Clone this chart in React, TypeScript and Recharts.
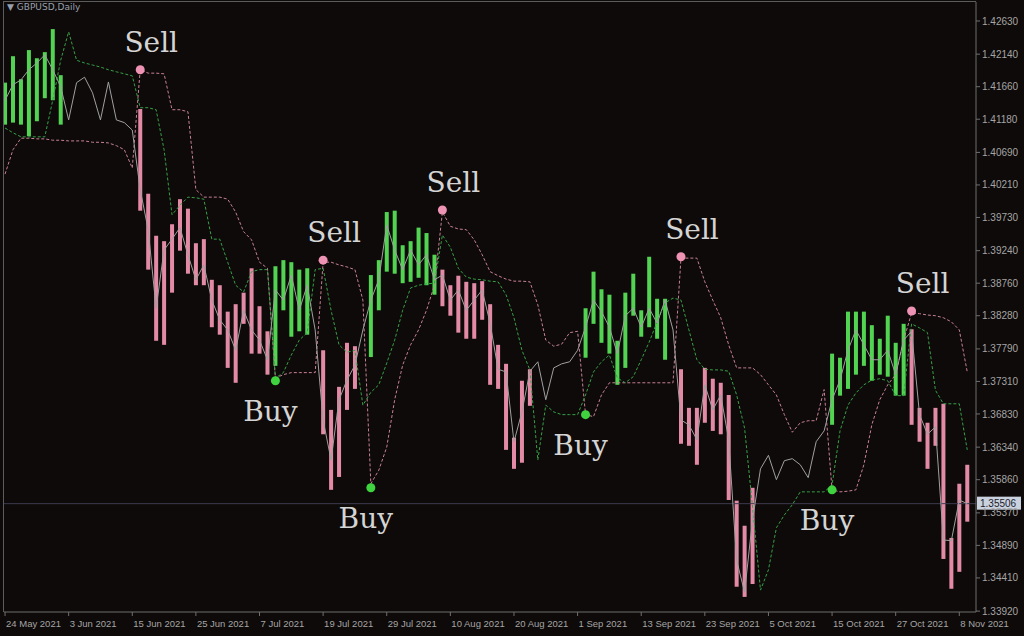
import React from "react";
import {
  ComposedChart,
  Bar,
  Line,
  Scatter,
  XAxis,
  YAxis,
  ReferenceLine,
} from "recharts";

// colours
const BG = "#0e0a09";
const UP = "#52d452";
const DOWN = "#e38aa7";
const CLOSE_LINE = "#a0a0a0";
const GREEN_DASH = "#36a147";
const PINK_DASH = "#c78196";
const AXIS = "#6f6f6f";
const TICK_TEXT = "#a5a5a5";

// x axis labels, one every 8 daily bars
const dateTicks = [
  "24 May 2021", "3 Jun 2021", "15 Jun 2021", "25 Jun 2021", "7 Jul 2021",
  "19 Jul 2021", "29 Jul 2021", "10 Aug 2021", "20 Aug 2021", "1 Sep 2021",
  "13 Sep 2021", "23 Sep 2021", "5 Oct 2021", "15 Oct 2021", "27 Oct 2021",
  "8 Nov 2021",
];

const priceTicks = [
  1.4263, 1.4214, 1.4166, 1.4118, 1.4069, 1.4021, 1.3973, 1.3924, 1.3876,
  1.3828, 1.3779, 1.3731, 1.3683, 1.3634, 1.3586, 1.3537, 1.3489, 1.3441,
  1.3392,
];

const lastPrice = 1.35506;

// G = green bar, P = pink bar, . = no bar (close line only)
const side =
  "GGGGGGGG.........PPPPPPPPPPPPPPPPPGGGGG.PPPPP.GGGGGGGGGPPPPPPPPPPPP......GGGGGGGGGGG.PPPPPPPPPP.........GGGGGGGGGGPPPPPPPP";

const high = [
  1.4172, 1.4211, 1.4177, 1.422, 1.4208, 1.4217, 1.4251, 1.4183,
  null, null, null, null, null, null, null, null, null,
  1.4133, 1.4008, 1.3946, 1.3938, 1.3963, 1.4, 1.3986, 1.3935, 1.3941, 1.3881,
  1.3873, 1.3834, 1.3845, 1.3862, 1.3898, 1.3842, 1.3805,
  1.3901, 1.391, 1.3907, 1.3896, 1.3898,
  null,
  1.3777, 1.3689, 1.3723, 1.3788, 1.3783,
  null,
  1.3888, 1.391, 1.3981, 1.3983, 1.3932, 1.3938, 1.3958, 1.395, 1.3918,
  1.3896, 1.3873, 1.3887, 1.3878, 1.3876, 1.3879, 1.3845, 1.3785, 1.3757,
  1.3648, 1.3732, 1.3749,
  null, null, null, null, null, null,
  1.3839, 1.3893, 1.3867, 1.3859, 1.3791, 1.3862, 1.389, 1.3836, 1.3915,
  1.3853, 1.3853,
  null,
  1.3749, 1.3692, 1.3692, 1.3751, 1.3735, 1.3729, 1.3711, 1.3555, 1.3518, 1.3574,
  null, null, null, null, null, null, null, null, null,
  1.3772, 1.3766, 1.3834, 1.3834, 1.3834, 1.3814, 1.3794, 1.3828, 1.3788, 1.3816,
  1.3808, 1.3692, 1.367, 1.3692, 1.3698, 1.35, 1.358, 1.3608,
];

const low = [
  1.411, 1.4113, 1.411, 1.4093, 1.4115, 1.4149, 1.4146, 1.411,
  null, null, null, null, null, null, null, null, null,
  1.3983, 1.3896, 1.3791, 1.3785, 1.3862, 1.3924, 1.389, 1.3873, 1.3873, 1.3811,
  1.38, 1.3751, 1.3729, 1.3816, 1.3772, 1.3772, 1.3741,
  1.3754, 1.3836, 1.3797, 1.3805, 1.38,
  null,
  1.3653, 1.3571, 1.359, 1.3689, 1.372,
  null,
  1.3767, 1.3836, 1.3893, 1.389, 1.3876, 1.3878, 1.3884, 1.3873, 1.3859,
  1.3842, 1.3828, 1.3803, 1.3794, 1.3794, 1.3822, 1.3726, 1.372, 1.363,
  1.3602, 1.3611, 1.3695,
  null, null, null, null, null, null,
  1.3766, 1.3816, 1.3788, 1.3772, 1.3726, 1.3751, 1.3828, 1.3797, 1.3811,
  1.3794, 1.3763,
  null,
  1.3639, 1.3636, 1.3608, 1.367, 1.3658, 1.3653, 1.3556, 1.3428, 1.3413, 1.3432,
  null, null, null, null, null, null, null, null, null,
  1.3667, 1.371, 1.372, 1.3741, 1.3754, 1.3732, 1.3741, 1.3738, 1.371, 1.371,
  1.3667, 1.3642, 1.3602, 1.3636, 1.3469, 1.3425, 1.345, 1.3524,
];

const close = [
  1.4146, 1.4169, 1.4176, 1.4191, 1.4201, 1.4213, 1.4191, 1.4166,
  1.4117, 1.4172, 1.418, 1.4157, 1.4117, 1.4173, 1.4117, 1.4113, 1.4102,
  1.4014, 1.3955, 1.3839, 1.3925, 1.3941, 1.3958, 1.3918, 1.3881, 1.3903, 1.3851,
  1.3822, 1.3807, 1.3777, 1.3836, 1.3807, 1.3792, 1.3763,
  1.3866, 1.3851, 1.3888, 1.3836, 1.3873, 1.3807,
  1.3674, 1.3615, 1.3704, 1.3733, 1.3755, 1.3807,
  1.3851, 1.3881, 1.3962, 1.3925, 1.3896, 1.3925, 1.3903, 1.3918, 1.3881,
  1.3888, 1.3851, 1.3866, 1.3836, 1.3851, 1.3866, 1.3817, 1.3749, 1.3745,
  1.3642, 1.3686, 1.3746,
  1.376, 1.3704, 1.3751, 1.3757, 1.376, 1.3777,
  1.3811, 1.3851, 1.3834, 1.3811, 1.3772, 1.3828, 1.3839, 1.3811, 1.3839,
  1.3817, 1.3851, 1.3807,
  1.3674, 1.3667, 1.3645, 1.3726, 1.3689, 1.3711, 1.3645, 1.3467, 1.342, 1.3527,
  1.3602, 1.3622, 1.3586, 1.3614, 1.3617, 1.3608, 1.3589, 1.3642, 1.3658,
  1.3704, 1.3733, 1.3777, 1.3807, 1.3785, 1.3763, 1.3763, 1.3777, 1.3741, 1.3792,
  1.3805, 1.3682, 1.3653, 1.3664, 1.3497, 1.3496, 1.3556, 1.35506,
];

const greenDash = [
  1.4105, 1.4098, 1.4092, 1.4092, 1.4092, 1.4092, 1.4146, 1.4205, 1.4247,
  1.4205, 1.4201, 1.4198, 1.4195, 1.4191, 1.4188, 1.4185, 1.4182,
  1.4135, 1.4135, 1.4132, 1.4073, 1.3977, 1.3991, 1.4003, 1.4002, 1.4, 1.3941,
  1.3941, 1.3907, 1.3873, 1.3863, 1.3893, 1.3896, 1.3896,
  1.3736, 1.3744, 1.377, 1.3792, 1.3803, 1.3896,
  1.3898, 1.3836, 1.3785, 1.3774, 1.3777, 1.3696,
  1.3715, 1.3726, 1.3758, 1.3792, 1.3836, 1.3869, 1.3873, 1.3875, 1.3876,
  1.3947, 1.3929, 1.3898, 1.3885, 1.3882, 1.3881, 1.3879, 1.3878, 1.3859,
  1.3825, 1.3777, 1.3748,
  1.3615, 1.3696, 1.3686, 1.3682, 1.3682, 1.3682,
  1.3711, 1.3745, 1.376, 1.377, 1.3736, 1.3729, 1.3738, 1.3763, 1.3789,
  1.3819, 1.3847, 1.3854,
  1.3851, 1.3807, 1.3763, 1.3749, 1.3748, 1.3748, 1.3746, 1.3711, 1.3662, 1.3546,
  1.3423, 1.3453, 1.3515, 1.3534, 1.3549, 1.3568, 1.3568, 1.3568, 1.3568,
  1.3578, 1.3658, 1.3696, 1.3714, 1.3726, 1.3733, 1.3735, 1.3732, 1.371, 1.371,
  1.3816, 1.381, 1.3803, 1.3718, 1.3698, 1.3698, 1.3698, 1.363,
];

const pinkDash = [
  1.4037, 1.4073, 1.409, 1.409, 1.4089, 1.4089, 1.4087, 1.4087, 1.4086,
  1.4086, 1.4086, 1.4084, 1.4084, 1.4083, 1.4079, 1.4073, 1.4046,
  1.4191, 1.4186, 1.4186, 1.4185, 1.4132, 1.4132, 1.4129, 1.4014, 1.4003, 1.4003,
  1.4003, 1.4, 1.3981, 1.3952, 1.394, 1.3907, 1.3898,
  1.3736, 1.3741, 1.3744, 1.3744, 1.3744, 1.3744,
  1.3907, 1.3907, 1.3903, 1.39, 1.3896, 1.3851,
  1.358, 1.36, 1.3634, 1.3704, 1.3755, 1.3785, 1.3807, 1.3836, 1.3873,
  1.3981, 1.396, 1.3956, 1.3955, 1.394, 1.3918, 1.3893, 1.3887, 1.3882,
  1.3879, 1.3879, 1.3878,
  1.3844, 1.3792, 1.3783, 1.3786, 1.3803, 1.3805,
  1.3682, 1.3679, 1.3711, 1.3729, 1.3729, 1.3729, 1.3729, 1.3729, 1.3729,
  1.3729, 1.3729, 1.3729,
  1.3913, 1.3913, 1.3913, 1.3878, 1.3851, 1.3825, 1.3785, 1.3751, 1.3751, 1.3751,
  1.3741, 1.3726, 1.3711, 1.3682, 1.3656, 1.367, 1.3673, 1.3673, 1.3719,
  1.3571, 1.3568, 1.3569, 1.3571, 1.3608, 1.3667, 1.3704, 1.3726, 1.3741, 1.3792,
  1.3832, 1.3831, 1.3829, 1.3828, 1.3825, 1.3819, 1.3807, 1.3745,
];

// signal bars and the price level of their dots
const sellBars = [17, 40, 55, 85, 114];
const sellPrices = [1.4191, 1.391, 1.3984, 1.3915, 1.3835];
const buyBars = [34, 46, 73, 104];
const buyPrices = [1.3732, 1.3574, 1.3682, 1.3571];

const rows = close.map((c, i) => ({
  i,
  side: side[i],
  range: high[i] != null ? [low[i], high[i]] : [c, c],
  close: c,
  gd: greenDash[i],
  pd: pinkDash[i],
}));

const sellRows = sellBars.map((i, k) => ({ i, p: sellPrices[k] }));
const buyRows = buyBars.map((i, k) => ({ i, p: buyPrices[k] }));

const tickIdx = dateTicks.map((_, k) => k * 8);

const RangeBar = (props: any) => {
  const { x, y, width, height, payload } = props;
  if (!payload || payload.side === "." || !(height > 0)) return <g />;
  return (
    <rect
      x={x}
      y={y}
      width={width}
      height={height}
      fill={payload.side === "G" ? UP : DOWN}
    />
  );
};

const signalFont = "'DejaVu Serif', 'Liberation Serif', serif";

const SellMark = (props: any) => {
  const { cx, cy } = props;
  return (
    <g>
      <circle cx={cx} cy={cy} r={4.5} fill="#ee93b4" />
      <text
        x={cx + 11}
        y={cy - 18}
        textAnchor="middle"
        fontSize={28}
        fontFamily={signalFont}
        fill="#d4d4d4"
      >
        Sell
      </text>
    </g>
  );
};

const BuyMark = (props: any) => {
  const { cx, cy } = props;
  return (
    <g>
      <circle cx={cx} cy={cy} r={4.5} fill="#3fd43f" />
      <text
        x={cx - 5}
        y={cy + 40}
        textAnchor="middle"
        fontSize={28}
        fontFamily={signalFont}
        fill="#d4d4d4"
      >
        Buy
      </text>
    </g>
  );
};

const DateTick = (props: any) => {
  const { x, y, payload } = props;
  return (
    <text
      x={x + 1}
      y={y + 9}
      textAnchor="start"
      fontSize={9.5}
      fontFamily="'Liberation Sans', Arial, sans-serif"
      fill={TICK_TEXT}
    >
      {dateTicks[Math.round(payload.value / 8)]}
    </text>
  );
};

const PriceTag = (props: any) => {
  const { viewBox } = props;
  if (!viewBox) return null;
  const x = viewBox.x + viewBox.width + 1;
  const y = viewBox.y;
  return (
    <g>
      <rect x={x} y={y - 7} width={44} height={13} fill="#c9d2de" />
      <text
        x={x + 3}
        y={y + 3.5}
        fontSize={10}
        fontFamily="'Liberation Sans', Arial, sans-serif"
        fill="#1a1a2a"
      >
        {lastPrice.toFixed(5)}
      </text>
    </g>
  );
};

export default function App() {
  return (
    <div
      style={{
        position: "absolute",
        left: 0,
        top: 0,
        width: 1024,
        height: 636,
        background: BG,
        overflow: "hidden",
      }}
    >
      <div
        style={{
          position: "absolute",
          left: 3,
          top: 1,
          width: 973,
          height: 611,
          borderLeft: "1px solid #5c5c5c",
          borderTop: "1px solid #5c5c5c",
          boxSizing: "border-box",
        }}
      />
      <div
        style={{
          position: "absolute",
          left: 7,
          top: 2,
          fontSize: 9,
          color: "#97a0ad",
          fontFamily: "'DejaVu Sans', sans-serif",
        }}
      >
        ▼ GBPUSD,Daily
      </div>
      <ComposedChart
        width={1024}
        height={636}
        data={rows}
        margin={{ top: 2, right: 0, left: 4, bottom: 0 }}
      >
        <XAxis
          dataKey="i"
          type="number"
          domain={[-0.13, 122.1]}
          allowDataOverflow
          ticks={tickIdx}
          interval={0}
          height={24}
          tickSize={4}
          axisLine={{ stroke: AXIS }}
          tickLine={{ stroke: AXIS }}
          tick={<DateTick />}
        />
        <YAxis
          orientation="right"
          domain={[1.33907, 1.4291]}
          allowDataOverflow
          ticks={priceTicks}
          interval={0}
          width={48}
          tickSize={4}
          axisLine={{ stroke: AXIS }}
          tickLine={{ stroke: AXIS }}
          tickFormatter={(v: number) => v.toFixed(5)}
          tick={{
            fill: TICK_TEXT,
            fontSize: 10,
            fontFamily: "'Liberation Sans', Arial, sans-serif",
          }}
        />
        <ReferenceLine
          y={lastPrice}
          stroke="#3d3b50"
          strokeWidth={1}
          label={<PriceTag />}
        />
        <Bar
          dataKey="range"
          barSize={4}
          shape={<RangeBar />}
          isAnimationActive={false}
        />
        <Line
          dataKey="pd"
          stroke={PINK_DASH}
          strokeWidth={1}
          strokeDasharray="3 2"
          dot={false}
          activeDot={false}
          isAnimationActive={false}
        />
        <Line
          dataKey="gd"
          stroke={GREEN_DASH}
          strokeWidth={1}
          strokeDasharray="3 2"
          dot={false}
          activeDot={false}
          isAnimationActive={false}
        />
        <Line
          dataKey="close"
          stroke={CLOSE_LINE}
          strokeWidth={1}
          dot={false}
          activeDot={false}
          isAnimationActive={false}
        />
        <Scatter
          data={sellRows}
          dataKey="p"
          shape={<SellMark />}
          isAnimationActive={false}
        />
        <Scatter
          data={buyRows}
          dataKey="p"
          shape={<BuyMark />}
          isAnimationActive={false}
        />
      </ComposedChart>
    </div>
  );
}
